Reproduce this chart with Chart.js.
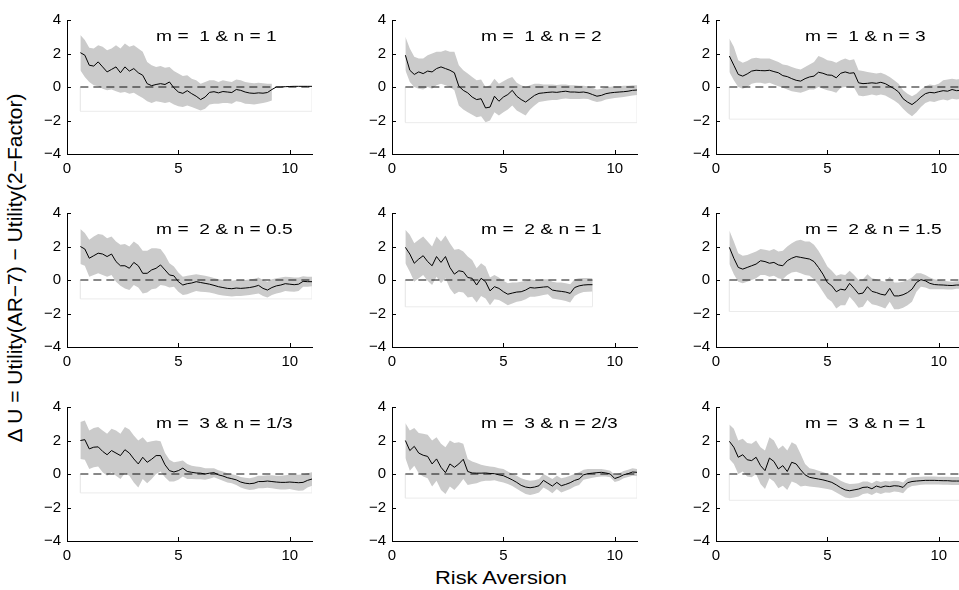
<!DOCTYPE html>
<html>
<head>
<meta charset="utf-8">
<script src="https://cdn.jsdelivr.net/npm/chart.js@4.4.1/dist/chart.umd.min.js"></script>
<style>
    body { margin: 0; width: 959px; height: 590px; overflow: hidden; background: #fff; position: relative;
           font-family: "Liberation Sans", Arial, sans-serif; color: #000; }
    canvas { position: absolute; }
    #ylab { position: absolute; left: 15px; top: 268px; white-space: nowrap; font-size: 21px;
            transform: translate(-50%, -50%) rotate(-90deg); }
    #xlab { position: absolute; left: 501px; top: 578px; white-space: nowrap; font-size: 19px;
            transform: translate(-50%, -50%) scaleX(1.15); }
</style>
</head>
<body>
<div id="ylab">Δ U = Utility(AR−7) − Utility(2−Factor)</div>
<div id="xlab">Risk Aversion</div>
<script>
// 风险厌恶系数 (x 轴取样点)
const xs = [0.6, 0.8, 1.0, 1.2, 1.4, 1.6, 1.8, 2.0, 2.2, 2.4, 2.6, 2.8, 3.0, 3.2, 3.4, 3.6, 3.8, 4.0,
    4.2, 4.4, 4.6, 4.8, 5.0, 5.2, 5.4, 5.6, 5.8, 6.0, 6.2, 6.4, 6.6, 6.8, 7.0, 7.2, 7.4, 7.6, 7.8, 8.0,
    8.2, 8.4, 8.6, 8.8, 9.0, 9.2, 9.4, 9.6, 9.8, 10.0, 10.2, 10.4, 10.6, 10.8, 11.0];

const xTicks = [0, 5, 10];
const yTicks = [-4, -2, 0, 2, 4];

const titles = ['m =  1 & n = 1', 'm =  1 & n = 2', 'm =  1 & n = 3',
    'm =  2 & n = 0.5', 'm =  2 & n = 1', 'm =  2 & n = 1.5',
    'm =  3 & n = 1/3', 'm =  3 & n = 2/3', 'm =  3 & n = 1'];

// 浅色矩形框底边
const boxBottom = [-1.45, -2.13, -1.92, -1.13, -1.6, -1.88, -1.13, -1.44, -1.57];

// m = 1 & n = 1
const line1 = [2.05, 1.9, 1.3, 1.25, 1.5, 1.2, 0.9, 1.05, 1.2, 0.85, 1.2, 0.95, 1.1, 0.85, 0.7, 0.2, 0.08, 0.15, 0.2, 0.15, 0.3, -0.05, -0.3, -0.38, -0.22, -0.4, -0.55, -0.75, -0.6, -0.32, -0.28, -0.35, -0.27, -0.3, -0.33, -0.15, -0.2, -0.3, -0.36, -0.38, -0.35, -0.37, -0.33, -0.15, 0.0, 0.0, 0.02, 0.03, 0.04, 0.04, 0.04, 0.04, 0.04];
const upper1 = [3.1, 2.8, 2.35, 2.3, 2.5, 2.4, 2.2, 2.3, 2.5, 2.3, 2.6, 2.4, 2.5, 2.3, 2.1, 1.5, 1.3, 1.2, 1.25, 1.15, 1.2, 0.95, 0.8, 0.65, 0.7, 0.5, 0.4, 0.2, 0.3, 0.4, 0.4, 0.3, 0.4, 0.35, 0.3, 0.45, 0.4, 0.3, 0.25, 0.22, 0.25, 0.22, 0.2, 0.2];
const lower1 = [1.0, 0.6, 0.3, 0.1, 0.05, -0.1, -0.2, -0.15, -0.25, -0.35, -0.3, -0.4, -0.35, -0.5, -0.65, -0.85, -0.95, -0.85, -0.9, -0.95, -0.9, -1.05, -1.15, -1.2, -1.1, -1.2, -1.3, -1.4, -1.3, -1.05, -1.0, -1.0, -0.95, -0.95, -1.0, -0.85, -0.9, -1.0, -1.02, -1.05, -1.0, -0.95, -0.9, -0.8];

// m = 1 & n = 2
const line2 = [1.9, 1.0, 0.75, 0.9, 0.8, 0.95, 0.9, 1.1, 1.2, 1.1, 1.0, 0.85, 0.05, -0.2, -0.35, -0.6, -0.75, -0.7, -1.25, -1.2, -0.55, -0.85, -0.6, -0.45, -0.2, -0.55, -0.75, -0.9, -0.7, -0.5, -0.38, -0.35, -0.32, -0.3, -0.32, -0.28, -0.25, -0.3, -0.3, -0.32, -0.3, -0.35, -0.45, -0.55, -0.5, -0.4, -0.35, -0.32, -0.3, -0.28, -0.25, -0.2, -0.18];
const upper2 = [3.0, 2.3, 1.8, 1.7, 1.7, 1.9, 2.0, 2.1, 2.1, 2.2, 2.1, 2.1, 1.3, 1.0, 0.8, 0.6, 0.4, 0.45, 0.0, 0.1, 0.5, 0.2, 0.35, 0.5, 0.6, 0.25, 0.1, 0.0, 0.1, 0.2, 0.2, 0.15, 0.15, 0.15, 0.12, 0.15, 0.15, 0.1, 0.1, 0.08, 0.08, 0.05, -0.05, -0.15, -0.1, 0.0, 0.02, 0.05, 0.05, 0.07, 0.08, 0.1, 0.1];
const lower2 = [1.0, 0.3, 0.0, -0.1, -0.15, 0.0, -0.1, 0.1, 0.2, 0.1, 0.0, -0.2, -1.1, -1.35, -1.5, -1.65, -1.8, -1.75, -2.1, -2.0, -1.5, -1.7, -1.5, -1.35, -1.1, -1.4, -1.55, -1.7, -1.35, -1.1, -0.9, -0.85, -0.8, -0.78, -0.78, -0.72, -0.68, -0.72, -0.72, -0.72, -0.7, -0.72, -0.82, -0.9, -0.85, -0.75, -0.7, -0.65, -0.62, -0.6, -0.55, -0.5, -0.48];

// m = 1 & n = 3
const line3 = [1.85, 1.3, 0.75, 0.65, 0.78, 0.95, 1.0, 0.98, 0.97, 1.0, 0.92, 0.85, 0.68, 0.62, 0.5, 0.4, 0.35, 0.5, 0.6, 0.65, 0.88, 0.82, 0.72, 0.7, 0.55, 0.82, 0.9, 0.82, 0.85, 0.25, 0.2, 0.22, 0.25, 0.22, 0.28, 0.2, 0.05, -0.1, -0.3, -0.7, -0.9, -1.05, -0.85, -0.6, -0.4, -0.32, -0.35, -0.28, -0.22, -0.25, -0.15, -0.22, -0.2];
const upper3 = [2.9, 2.4, 1.6, 1.45, 1.55, 1.7, 1.75, 1.7, 1.7, 1.7, 1.6, 1.5, 1.35, 1.3, 1.2, 1.1, 1.05, 1.2, 1.35, 1.5, 1.85, 1.75, 1.6, 1.55, 1.45, 1.6, 1.7, 1.6, 1.65, 1.0, 0.95, 0.9, 0.85, 0.8, 0.85, 0.75, 0.6, 0.4, 0.2, -0.2, -0.4, -0.55, -0.4, -0.15, 0.05, 0.15, 0.1, 0.2, 0.4, 0.45, 0.5, 0.45, 0.5];
const lower3 = [0.9, 0.4, 0.0, -0.1, 0.0, 0.2, 0.25, 0.25, 0.2, 0.25, 0.15, 0.05, -0.05, -0.15, -0.25, -0.3, -0.35, -0.25, -0.15, -0.15, 0.0, -0.1, -0.2, -0.25, -0.35, -0.05, 0.0, -0.05, -0.05, -0.5, -0.55, -0.5, -0.45, -0.5, -0.45, -0.5, -0.65, -0.8, -1.0, -1.3, -1.55, -1.75, -1.5, -1.2, -0.95, -0.85, -0.9, -0.8, -0.75, -0.8, -0.7, -0.75, -0.7];

// m = 2 & n = 0.5
const line4 = [2.0, 1.85, 1.3, 1.45, 1.6, 1.55, 1.4, 1.55, 1.1, 0.85, 0.85, 0.7, 1.05, 0.85, 0.4, 0.4, 0.6, 0.7, 0.9, 0.6, 0.3, 0.25, -0.1, -0.3, -0.22, -0.18, -0.1, -0.15, -0.2, -0.25, -0.32, -0.4, -0.45, -0.5, -0.52, -0.48, -0.5, -0.48, -0.45, -0.4, -0.32, -0.5, -0.6, -0.45, -0.35, -0.3, -0.22, -0.25, -0.28, -0.25, -0.08, -0.1, -0.1];
const upper4 = [3.05, 2.8, 2.4, 2.6, 2.75, 2.7, 2.5, 2.6, 2.3, 2.1, 2.15, 2.0, 2.3, 2.1, 1.75, 1.75, 1.9, 1.9, 1.85, 1.5, 1.0, 0.8, 0.45, 0.2, 0.25, 0.3, 0.35, 0.3, 0.25, 0.2, 0.12, 0.05, 0.0, -0.05, -0.05, 0.0, -0.02, 0.0, 0.03, 0.08, 0.15, 0.0, -0.1, 0.05, 0.1, 0.15, 0.2, 0.18, 0.15, 0.15, 0.22, 0.2, 0.2];
const lower4 = [0.95, 0.85, 0.2, 0.3, 0.4, 0.3, 0.2, 0.3, -0.1, -0.35, -0.5, -0.6, -0.3, -0.45, -0.8, -0.75, -0.55, -0.5, -0.3, -0.35, -0.45, -0.4, -0.7, -0.9, -0.85, -0.75, -0.65, -0.7, -0.72, -0.75, -0.8, -0.88, -0.92, -0.95, -0.98, -0.95, -0.95, -0.92, -0.9, -0.85, -0.8, -0.95, -1.05, -0.9, -0.8, -0.75, -0.65, -0.68, -0.7, -0.65, -0.4, -0.4, -0.38];

// m = 2 & n = 1 (只到 9)
const line5 = [1.95, 1.55, 1.0, 1.25, 1.45, 1.1, 0.85, 1.4, 1.05, 1.4, 0.75, 0.35, 0.55, 0.5, 0.15, 0.1, -0.3, 0.1, -0.1, -0.65, -0.4, -0.5, -0.7, -0.85, -0.78, -0.72, -0.7, -0.6, -0.45, -0.48, -0.45, -0.42, -0.4, -0.6, -0.65, -0.68, -0.72, -0.8, -0.45, -0.35, -0.3, -0.28, -0.28];
const upper5 = [3.0, 2.7, 2.2, 2.4, 2.6, 2.3, 2.0, 2.6, 2.3, 2.65, 2.2, 1.8, 1.85, 1.7, 1.4, 1.2, 0.7, 1.0, 0.8, 0.15, 0.3, 0.15, -0.05, -0.2, -0.15, -0.15, -0.1, -0.05, 0.05, 0.0, 0.0, 0.05, 0.05, -0.1, -0.15, -0.15, -0.2, -0.25, 0.05, 0.1, 0.12, 0.12, 0.1];
const lower5 = [1.0, 0.5, -0.1, 0.1, 0.3, -0.05, -0.3, 0.2, -0.2, 0.1, -0.5, -0.85, -0.7, -0.75, -1.05, -1.0, -1.35, -0.95, -1.1, -1.5, -1.15, -1.2, -1.35, -1.5, -1.4, -1.3, -1.25, -1.15, -1.0, -1.0, -0.95, -0.9, -0.85, -1.1, -1.15, -1.2, -1.25, -1.35, -0.95, -0.8, -0.72, -0.7, -0.68];

// m = 2 & n = 1.5
const line6 = [1.95, 1.3, 0.75, 0.65, 0.75, 0.85, 0.95, 1.15, 1.1, 1.0, 1.05, 0.9, 0.85, 1.15, 1.3, 1.4, 1.35, 1.3, 1.25, 1.1, 0.75, 0.35, -0.15, -0.35, -0.7, -0.55, -0.6, -0.2, -0.5, -0.83, -0.78, -0.4, -0.68, -0.75, -0.85, -0.9, -0.5, -0.95, -0.95, -0.88, -0.75, -0.55, -0.15, 0.02, -0.05, -0.2, -0.27, -0.29, -0.3, -0.32, -0.33, -0.3, -0.3];
const upper6 = [2.95, 2.3, 1.6, 1.45, 1.5, 1.6, 1.7, 1.85, 1.8, 1.75, 1.85, 1.7, 1.75, 2.0, 2.2, 2.35, 2.4, 2.3, 2.3, 2.1, 1.75, 1.3, 0.8, 0.55, 0.25, 0.35, 0.3, 0.55, 0.3, 0.0, 0.05, 0.35, 0.1, 0.05, -0.05, -0.1, 0.2, -0.15, -0.15, -0.1, 0.0, 0.15, 0.4, 0.4, 0.3, 0.15, 0.05, 0.0, -0.05, -0.08, -0.1, -0.08, -0.08];
const lower6 = [0.95, 0.35, -0.1, -0.2, -0.1, 0.0, 0.1, 0.3, 0.3, 0.2, 0.25, 0.1, 0.05, 0.3, 0.45, 0.5, 0.4, 0.3, 0.25, 0.05, -0.3, -0.7, -1.1, -1.3, -1.7, -1.5, -1.5, -1.0, -1.3, -1.65, -1.6, -1.2, -1.45, -1.5, -1.6, -1.7, -1.3, -1.75, -1.75, -1.65, -1.5, -1.3, -0.7, -0.4, -0.45, -0.55, -0.55, -0.55, -0.55, -0.56, -0.56, -0.52, -0.52];

// m = 3 & n = 1/3
const line7 = [2.0, 2.05, 1.5, 1.6, 1.62, 1.35, 1.15, 1.4, 1.25, 1.1, 1.45, 1.25, 0.9, 0.6, 1.0, 0.7, 0.88, 1.1, 1.1, 0.55, 0.2, 0.12, 0.2, 0.35, 0.15, 0.1, 0.06, 0.05, 0.0, 0.05, 0.08, -0.05, -0.12, -0.22, -0.28, -0.35, -0.48, -0.55, -0.58, -0.55, -0.45, -0.45, -0.42, -0.45, -0.48, -0.5, -0.5, -0.48, -0.5, -0.52, -0.5, -0.38, -0.3];
const upper7 = [3.1, 3.2, 2.6, 2.75, 2.8, 2.6, 2.4, 2.7, 2.6, 2.4, 2.8, 2.65, 2.3, 2.0, 2.2, 1.9, 1.95, 2.0, 1.95, 1.25, 0.85, 0.7, 0.75, 0.8, 0.6, 0.5, 0.45, 0.42, 0.35, 0.35, 0.35, 0.22, 0.15, 0.05, -0.02, -0.08, -0.18, -0.22, -0.25, -0.2, -0.1, -0.1, -0.08, -0.08, -0.1, -0.1, -0.08, -0.05, -0.05, -0.05, -0.02, 0.05, 0.1];
const lower7 = [0.9, 0.85, 0.3, 0.4, 0.45, 0.1, -0.1, 0.1, -0.1, -0.3, 0.05, -0.1, -0.5, -0.8, -0.3, -0.55, -0.3, 0.0, 0.15, -0.2, -0.45, -0.45, -0.35, -0.15, -0.3, -0.3, -0.32, -0.32, -0.35, -0.28, -0.2, -0.3, -0.4, -0.5, -0.55, -0.65, -0.8, -0.9, -0.95, -0.92, -0.85, -0.85, -0.82, -0.85, -0.9, -0.92, -0.92, -0.9, -0.95, -1.0, -0.98, -0.8, -0.7];

// m = 3 & n = 2/3
const line8 = [2.0, 1.4, 1.65, 1.25, 1.12, 1.05, 0.6, 0.9, 0.4, 0.08, 0.6, 0.4, 0.6, 0.88, 0.15, 0.06, 0.05, 0.05, 0.06, 0.03, 0.02, -0.05, -0.1, -0.22, -0.35, -0.5, -0.68, -0.78, -0.82, -0.78, -0.7, -0.38, -0.55, -0.72, -0.5, -0.7, -0.62, -0.52, -0.38, -0.3, -0.05, 0.02, 0.05, 0.08, 0.1, 0.06, 0.0, -0.27, -0.18, -0.05, 0.02, 0.12, 0.1];
const upper8 = [3.05, 2.6, 2.75, 2.45, 2.4, 2.35, 2.0, 2.2, 1.8, 1.6, 2.0, 1.85, 1.9, 1.8, 0.9, 0.75, 0.65, 0.55, 0.5, 0.45, 0.42, 0.35, 0.3, 0.15, 0.0, -0.1, -0.25, -0.35, -0.4, -0.38, -0.3, 0.0, -0.15, -0.3, -0.1, -0.25, -0.2, -0.1, 0.02, 0.1, 0.25, 0.3, 0.3, 0.3, 0.3, 0.25, 0.2, -0.05, 0.05, 0.18, 0.25, 0.35, 0.3];
const lower8 = [0.95, 0.2, 0.5, 0.05, -0.15, -0.25, -0.75, -0.4, -0.95, -1.2, -0.75, -0.95, -0.65, -0.3, -0.65, -0.6, -0.55, -0.45, -0.4, -0.4, -0.38, -0.45, -0.5, -0.6, -0.72, -0.88, -1.05, -1.2, -1.25, -1.2, -1.1, -0.8, -0.95, -1.15, -0.9, -1.1, -1.0, -0.9, -0.75, -0.65, -0.35, -0.28, -0.22, -0.18, -0.15, -0.15, -0.2, -0.48, -0.4, -0.25, -0.18, -0.1, -0.12];

// m = 3 & n = 1
const line9 = [1.95, 1.6, 1.0, 1.15, 0.85, 0.8, 1.0, 0.5, 0.2, 0.95, 0.75, 0.3, 0.5, 0.15, 0.7, 0.6, 0.25, -0.05, -0.2, -0.25, -0.3, -0.35, -0.42, -0.5, -0.65, -0.82, -0.95, -1.0, -0.95, -0.9, -0.8, -0.78, -0.88, -0.72, -0.8, -0.72, -0.75, -0.7, -0.72, -0.8, -0.52, -0.45, -0.42, -0.4, -0.38, -0.38, -0.38, -0.39, -0.4, -0.4, -0.42, -0.42, -0.42];
const upper9 = [2.95, 2.7, 2.0, 2.1, 1.85, 1.8, 2.0, 1.6, 1.4, 2.2, 2.0, 1.5, 1.7, 1.4, 1.9, 1.75, 1.2, 0.6, 0.35, 0.28, 0.2, 0.12, 0.02, -0.08, -0.22, -0.4, -0.52, -0.6, -0.58, -0.55, -0.45, -0.45, -0.55, -0.4, -0.48, -0.42, -0.45, -0.4, -0.42, -0.5, -0.25, -0.2, -0.18, -0.16, -0.15, -0.15, -0.15, -0.16, -0.17, -0.17, -0.18, -0.18, -0.18];
const lower9 = [0.9, 0.6, 0.0, 0.15, -0.15, -0.2, 0.0, -0.6, -0.9, -0.25, -0.45, -0.85, -0.7, -0.95, -0.45, -0.55, -0.75, -0.7, -0.75, -0.78, -0.8, -0.85, -0.9, -0.95, -1.1, -1.25, -1.4, -1.45, -1.4, -1.35, -1.2, -1.15, -1.25, -1.1, -1.2, -1.1, -1.12, -1.05, -1.08, -1.15, -0.85, -0.72, -0.68, -0.64, -0.62, -0.62, -0.62, -0.63, -0.64, -0.64, -0.66, -0.66, -0.66];

const lines = [line1, line2, line3, line4, line5, line6, line7, line8, line9];
const uppers = [upper1, upper2, upper3, upper4, upper5, upper6, upper7, upper8, upper9];
const lowers = [lower1, lower2, lower3, lower4, lower5, lower6, lower7, lower8, lower9];

// 画布位置
const colLeft = [25, 350, 674];
const rowTop = [5, 198, 392];
const FONT = '"Liberation Sans", Arial, Helvetica, sans-serif';

// 内向刻度和小标题
const panelDecor = {
    id: 'panelDecor',
    afterDraw(chart, args, opts) {
        const { ctx, scales: { x, y } } = chart;
        ctx.save();
        ctx.strokeStyle = '#000';
        ctx.lineWidth = 1;
        ctx.beginPath();
        xTicks.forEach(v => {
            const px = Math.round(x.getPixelForValue(v)) + 0.5;
            ctx.moveTo(px, y.bottom);
            ctx.lineTo(px, y.bottom - 4);
        });
        yTicks.forEach(v => {
            const py = Math.round(y.getPixelForValue(v)) + 0.5;
            ctx.moveTo(x.left, py);
            ctx.lineTo(x.left + 4, py);
        });
        ctx.stroke();

        ctx.fillStyle = '#000';
        ctx.font = '15px ' + FONT;
        ctx.textBaseline = 'middle';
        ctx.translate(x.getPixelForValue(4), y.getPixelForValue(3));
        ctx.scale(1.28, 1);
        ctx.fillText(opts.title, 0, 0);
        ctx.restore();
    }
};

const pts = arr => arr.map((v, k) => ({ x: xs[k], y: v }));

function makePanel(i) {
    const canvas = document.createElement('canvas');
    canvas.width = 290;
    canvas.height = 180;
    canvas.style.left = colLeft[i % 3] + 'px';
    canvas.style.top = rowTop[Math.floor(i / 3)] + 'px';
    document.body.appendChild(canvas);

    const line = lines[i];
    const x0 = xs[0];
    const x1 = xs[line.length - 1];
    const b = boxBottom[i];

    new Chart(canvas, {
        type: 'line',
        data: {
            datasets: [
                { data: pts(line), borderColor: '#000', borderWidth: 1, pointRadius: 0, fill: false },
                { data: [{ x: x0, y: 0 }, { x: x1, y: 0 }], borderColor: '#111', borderWidth: 1,
                  borderDash: [8, 5], pointRadius: 0, fill: false },
                { data: pts(uppers[i]), borderWidth: 0, borderColor: 'rgba(0,0,0,0)', pointRadius: 0,
                  fill: '+1', backgroundColor: '#cbcbcb' },
                { data: pts(lowers[i]), borderWidth: 0, borderColor: 'rgba(0,0,0,0)', pointRadius: 0, fill: false },
                { data: [{ x: x0, y: 0 }, { x: x0, y: b }, { x: x1, y: b }, { x: x1, y: 0 }],
                  borderColor: '#ebebeb', borderWidth: 1, pointRadius: 0, fill: false }
            ]
        },
        options: {
            responsive: false,
            animation: false,
            events: [],
            layout: { padding: { left: 0, top: 10, right: 3, bottom: 0 } },
            plugins: {
                legend: { display: false },
                tooltip: { enabled: false },
                panelDecor: { title: titles[i] }
            },
            scales: {
                x: {
                    type: 'linear',
                    min: 0,
                    max: 11,
                    afterBuildTicks: s => { s.ticks = xTicks.map(v => ({ value: v })); },
                    afterFit: s => { s.height = 31; },
                    grid: { display: false, drawTicks: false },
                    border: { display: true, color: '#000', width: 1 },
                    ticks: { color: '#000', padding: 6, maxRotation: 0, font: { size: 15, family: FONT } }
                },
                y: {
                    min: -4,
                    max: 4,
                    afterBuildTicks: s => { s.ticks = yTicks.map(v => ({ value: v })); },
                    afterFit: s => { s.width = 42; },
                    grid: { display: false, drawTicks: false },
                    border: { display: true, color: '#000', width: 1 },
                    ticks: {
                        color: '#000',
                        padding: 6,
                        font: { size: 15, family: FONT },
                        callback: v => String(v).replace('-', '−')
                    }
                }
            }
        },
        plugins: [panelDecor]
    });
}

for (let i = 0; i < 9; i++) {
    makePanel(i);
}
</script>
</body>
</html>
